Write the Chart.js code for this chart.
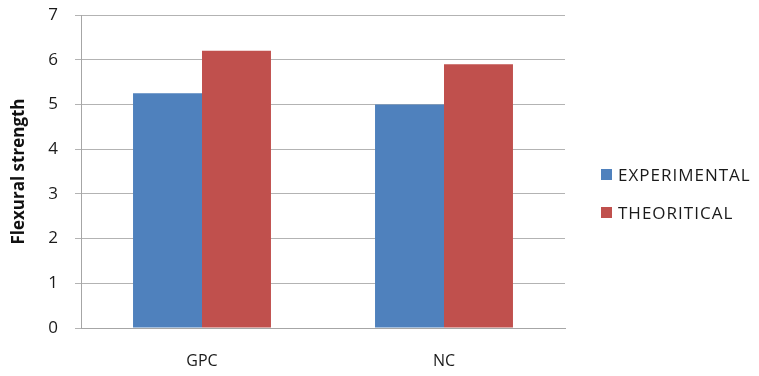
<!DOCTYPE html>
<html>
<head>
<meta charset="utf-8">
<script src="https://cdn.jsdelivr.net/npm/chart.js@4"></script>
<style>
  html, body { margin: 0; padding: 0; background: #fff; }
  #wrap { width: 759px; height: 376px; position: relative; }
</style>
</head>
<body>
<div id="wrap"><canvas id="c" width="759" height="376"></canvas></div>
<script>
// Flexural strength: experimental vs theoretical
const categories = ['GPC', 'NC'];
const experimental = [5.25, 5.0];
const theoretical = [6.2, 5.9];
const seriesNames = ['EXPERIMENTAL', 'THEORITICAL'];
const seriesColors = ['#4F81BD', '#C0504D'];
const yTicks = [0, 1, 2, 3, 4, 5, 6, 7];

const FONT = '"Open Sans", "Noto Sans", sans-serif';

// Legend drawn at the right side of the canvas
const sideLegend = {
  id: 'sideLegend',
  afterDraw(chart) {
    const ctx = chart.ctx;
    ctx.save();
    ctx.font = '17px ' + FONT;
    ctx.textBaseline = 'middle';
    ctx.textAlign = 'left';
    if ('letterSpacing' in ctx) ctx.letterSpacing = '1px';
    const rows = [175, 213];
    chart.data.datasets.forEach((ds, i) => {
      const y = rows[i];
      ctx.fillStyle = ds.backgroundColor;
      ctx.fillRect(601, y - 6, 11, 11);
      ctx.fillStyle = '#1a1a1a';
      ctx.fillText(ds.label, 618, y + 1);
    });
    ctx.restore();
  }
};

new Chart(document.getElementById('c'), {
  type: 'bar',
  data: {
    labels: categories,
    datasets: [
      { label: seriesNames[0], data: experimental, backgroundColor: seriesColors[0] },
      { label: seriesNames[1], data: theoretical, backgroundColor: seriesColors[1] }
    ]
  },
  options: {
    responsive: false,
    animation: false,
    layout: { padding: { left: 0, right: 194, top: 15, bottom: 0 } },
    plugins: { legend: { display: false }, tooltip: { enabled: false } },
    datasets: { bar: { categoryPercentage: 0.57, barPercentage: 1.0 } },
    scales: {
      x: {
        grid: { display: false, drawTicks: false },
        border: { display: true, color: '#a6a6a6', width: 1 },
        ticks: { color: '#1a1a1a', font: { family: FONT, size: 16 }, padding: 24 },
        afterFit(s) { s.height = 48; }
      },
      y: {
        min: 0, max: 7,
        afterBuildTicks(s) { s.ticks = yTicks.map(v => ({ value: v })); },
        grid: { color: '#b3b3b3', lineWidth: 1, tickLength: 6, drawTicks: true },
        border: { display: true, color: '#a6a6a6', width: 1 },
        ticks: { color: '#1a1a1a', font: { family: FONT, size: 17 }, padding: 17 },
        title: {
          display: true, text: 'Flexural strength', color: '#111',
          font: { family: FONT, size: 17, weight: 'bold' }, padding: { top: 9, bottom: 0 }
        },
        afterFit(s) { s.width = 81; s.paddingTop = 0; s.paddingBottom = 0; }
      }
    }
  },
  plugins: [sideLegend]
});
</script>
</body>
</html>
